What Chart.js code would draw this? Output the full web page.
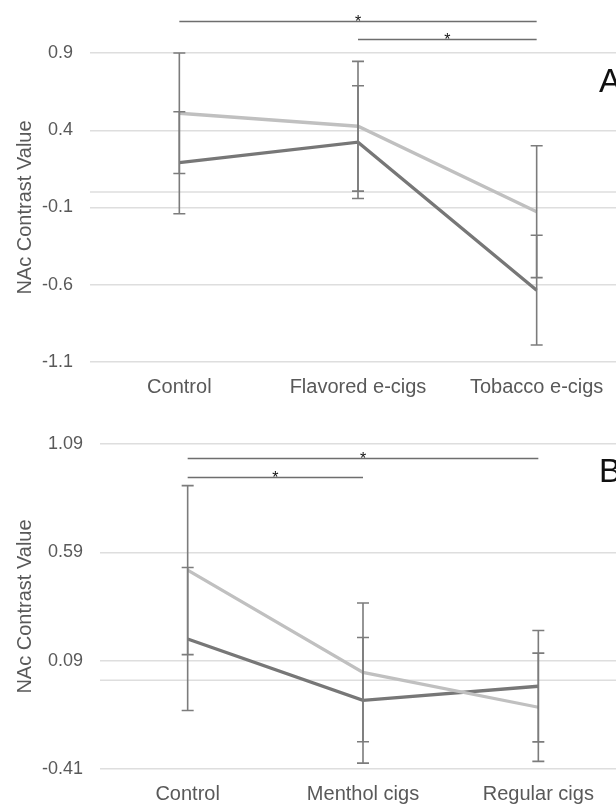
<!DOCTYPE html>
<html>
<head>
<meta charset="utf-8">
<script src="https://cdn.jsdelivr.net/npm/chart.js@4"></script>
<style>
  html, body { margin: 0; padding: 0; background: #fff; overflow: hidden; width: 616px; height: 811px; }
  .panel { position: absolute; left: 0; overflow: hidden; width: 616px; }
  #panelA { top: 0; height: 400px; }
  #panelB { top: 400px; height: 411px; }
</style>
</head>
<body>
<div class="panel" id="panelA"><canvas id="chartA" width="626" height="400"></canvas></div>
<div class="panel" id="panelB"><canvas id="chartB" width="626" height="411"></canvas></div>
<script>
// panel A data
const labelsA = ['Control', 'Flavored e-cigs', 'Tobacco e-cigs'];
const lightA = [0.51, 0.426, -0.127];
const darkA = [0.19, 0.323, -0.635];
const lightErrA = [0.39, 0.42, 0.427];
const darkErrA = [0.33, 0.365, 0.355];
const ticksA = [0.9, 0.4, -0.1, -0.6, -1.1];
const sigA = [{ from: 0, to: 2, y: 1.105 }, { from: 1, to: 2, y: 0.988 }];

// panel B data
const labelsB = ['Control', 'Menthol cigs', 'Regular cigs'];
const lightB = [0.508, 0.036, -0.125];
const darkB = [0.19, -0.093, -0.028];
const lightErrB = [0.39, 0.32, 0.25];
const darkErrB = [0.33, 0.29, 0.257];
const ticksB = [1.09, 0.59, 0.09, -0.41];
const sigB = [{ from: 0, to: 2, y: 1.025 }, { from: 0, to: 1, y: 0.94 }];

const FONT = "'Liberation Sans', Arial, sans-serif";
const GRID = '#dedede';
const TEXT = '#595959';

// zero line, error bars, significance bars and panel letter
const extras = {
  id: 'extras',
  beforeDatasetsDraw(chart) {
    const { ctx, chartArea, scales } = chart;
    const y0 = scales.y.getPixelForValue(0);
    ctx.save();
    ctx.strokeStyle = GRID;
    ctx.lineWidth = 1.5;
    ctx.beginPath();
    ctx.moveTo(chartArea.left, y0);
    ctx.lineTo(chartArea.right, y0);
    ctx.stroke();
    ctx.restore();
  },
  afterDatasetsDraw(chart) {
    const { ctx, scales } = chart;
    ctx.save();
    ctx.strokeStyle = '#7c7c7c';
    ctx.lineWidth = 1.6;
    chart.data.datasets.forEach(ds => {
      ds.data.forEach((v, i) => {
        const x = scales.x.getPixelForValue(i);
        const top = scales.y.getPixelForValue(v + ds.err[i]);
        const bot = scales.y.getPixelForValue(v - ds.err[i]);
        ctx.beginPath();
        ctx.moveTo(x, top); ctx.lineTo(x, bot);
        ctx.moveTo(x - 6, top); ctx.lineTo(x + 6, top);
        ctx.moveTo(x - 6, bot); ctx.lineTo(x + 6, bot);
        ctx.stroke();
      });
    });
    ctx.restore();
  },
  afterDraw(chart, args, opts) {
    const { ctx, scales } = chart;
    ctx.save();
    opts.sig.forEach(s => {
      const x1 = scales.x.getPixelForValue(s.from);
      const x2 = scales.x.getPixelForValue(s.to);
      const y = Math.round(scales.y.getPixelForValue(s.y)) + 0.5;
      ctx.strokeStyle = '#6e6e6e';
      ctx.lineWidth = 1.4;
      ctx.beginPath();
      ctx.moveTo(x1, y); ctx.lineTo(x2, y);
      ctx.stroke();
      ctx.fillStyle = '#111';
      ctx.font = '16px ' + FONT;
      ctx.textAlign = 'center';
      ctx.textBaseline = 'alphabetic';
      ctx.fillText('*', (x1 + x2) / 2, y + 5);
    });
    ctx.fillStyle = '#111';
    ctx.font = '33px ' + FONT;
    ctx.textAlign = 'left';
    ctx.textBaseline = 'middle';
    ctx.fillText(opts.letter, 599, opts.letterY);
    ctx.restore();
  }
};

function makeChart(id, labels, light, dark, lightErr, darkErr, ticks, sig, letter, letterY, padTop, xHeight, yWidth) {
  const yMin = ticks[ticks.length - 1];
  const yMax = ticks[0];
  new Chart(document.getElementById(id), {
    type: 'line',
    data: {
      labels: labels,
      datasets: [
        { label: 'Group 1', data: light, err: lightErr, borderColor: '#c0c0c0', borderWidth: 3.3, pointRadius: 0, tension: 0, fill: false },
        { label: 'Group 2', data: dark, err: darkErr, borderColor: '#777777', borderWidth: 3.3, pointRadius: 0, tension: 0, fill: false }
      ]
    },
    options: {
      responsive: false,
      devicePixelRatio: 1,
      animation: false,
      layout: { padding: { top: padTop, right: 0, bottom: 0, left: 0 } },
      plugins: {
        legend: { display: false },
        tooltip: { enabled: false },
        extras: { sig: sig, letter: letter, letterY: letterY }
      },
      scales: {
        x: {
          offset: true,
          grid: { display: false, drawTicks: false },
          border: { display: false },
          ticks: { color: TEXT, font: { family: FONT, size: 20 }, padding: 13, maxRotation: 0, autoSkip: false },
          afterFit(scale) { scale.height = xHeight; }
        },
        y: {
          min: yMin,
          max: yMax,
          afterBuildTicks(scale) { scale.ticks = ticks.map(v => ({ value: v })); },
          grid: { color: GRID, lineWidth: 1.5, drawTicks: false },
          border: { display: false },
          ticks: { color: TEXT, font: { family: FONT, size: 18 }, padding: 17, callback: v => String(v) },
          title: { display: true, text: 'NAc Contrast Value', color: TEXT, font: { family: FONT, size: 20 }, padding: { top: 13, bottom: 0 } },
          afterFit(scale) { scale.width = yWidth; }
        }
      }
    },
    plugins: [extras]
  });
}

makeChart('chartA', labelsA, lightA, darkA, lightErrA, darkErrA, ticksA, sigA, 'A', 83, 53, 38, 90);
makeChart('chartB', labelsB, lightB, darkB, lightErrB, darkErrB, ticksB, sigB, 'B', 73, 44, 42, 100);
</script>
</body>
</html>
